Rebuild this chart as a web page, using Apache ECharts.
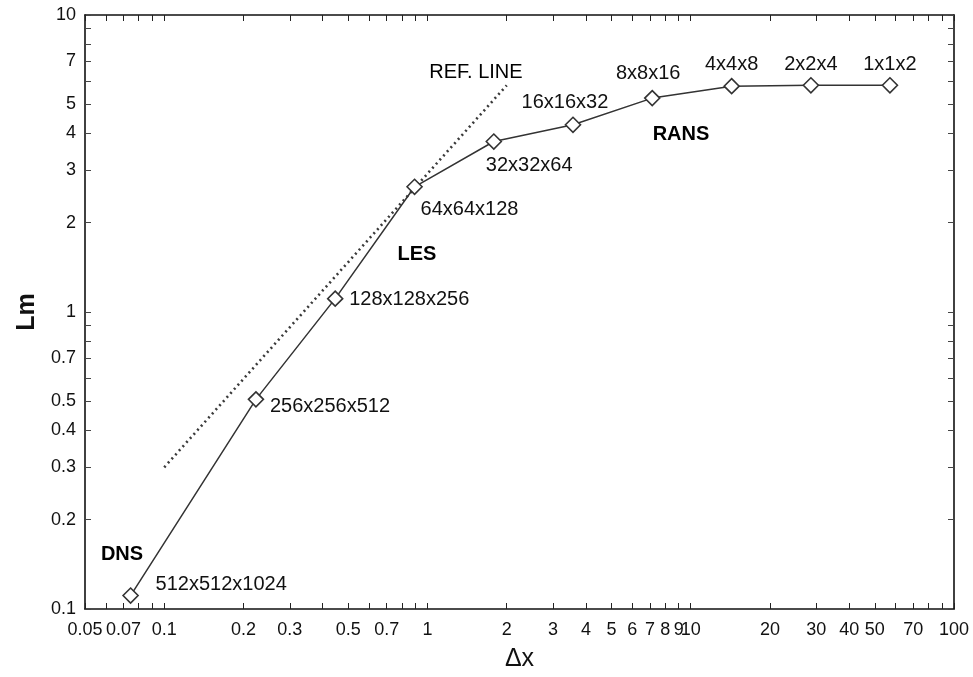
<!DOCTYPE html>
<html><head><meta charset="utf-8">
<script src="https://cdn.jsdelivr.net/npm/echarts@6/dist/echarts.min.js"></script>
<style>html,body{margin:0;padding:0;background:#fff}#c{width:973px;height:677px}</style>
</head><body><div id="c"></div>
<script>
// ---- data ----
const gridNames = ['512x512x1024','256x256x512','128x128x256','64x64x128','32x32x64','16x16x32','8x8x16','4x4x8','2x2x4','1x1x2'];
const deltaX = [0.0745, 0.223, 0.446, 0.893, 1.786, 3.57, 7.14, 14.3, 28.6, 57.1];
const lmValues = [0.111, 0.508, 1.109, 2.64, 3.75, 4.27, 5.25, 5.76, 5.80, 5.80];
const refLineX = [0.1, 2.0];
const refLineY = [0.3, 5.8];
const xTickLabels = [0.05,0.07,0.1,0.2,0.3,0.5,0.7,1,2,3,4,5,6,7,8,9,10,20,30,40,50,70,100];
const xTickMarks = [0.05,0.06,0.07,0.08,0.09,0.1,0.2,0.3,0.4,0.5,0.6,0.7,0.8,0.9,1,2,3,4,5,6,7,8,9,10,20,30,40,50,60,70,80,90,100];
const yTickLabels = [0.1,0.2,0.3,0.4,0.5,0.7,1,2,3,4,5,7,10];
const yTickMarks = [0.1,0.2,0.3,0.4,0.5,0.6,0.7,0.8,0.9,1,2,3,4,5,6,7,8,9,10];
const regionNames = ['DNS','LES','RANS','REF. LINE'];
const regionX = [0.0691, 0.912, 9.18, 1.528];
const regionY = [0.1524, 1.566, 3.96, 6.41];

// ---- layout / style ----
const FONT = '"Liberation Sans", Arial, Helvetica, sans-serif';
const pointLabelOffsets = [[25,-11],[14,7],[14,1],[6,23],[-8,24],[-8,-22],[-4,-25],[0,-22],[0,-21],[0,-21]];
const pointLabelAlign = ['left','left','left','left','left','center','center','center','center','center'];
const regionBold = [true, true, true, false];

const L = Math.log10;
const X_MIN = L(0.05), X_MAX = L(100), Y_MIN = L(0.1), Y_MAX = L(10);
const fmt = v => String(Number(Math.pow(10, v).toPrecision(3)));

function xAxisCfg(pos, showLabels) {
  return {
    type: 'value', position: pos, min: X_MIN, max: X_MAX,
    name: showLabels ? 'Δx' : '', nameLocation: 'middle', nameGap: 38,
    nameTextStyle: { fontFamily: FONT, fontSize: 25, color: '#111' },
    axisLine: { show: true, onZero: false, lineStyle: { color: '#111', width: 1.6 } },
    axisTick: { show: true, inside: true, length: 6, customValues: xTickMarks.map(L), lineStyle: { color: '#222', width: 1 } },
    axisLabel: { show: showLabels, customValues: xTickLabels.map(L), formatter: fmt, margin: 12,
      fontFamily: FONT, fontSize: 18, color: '#111' },
    splitLine: { show: false }
  };
}
function yAxisCfg(pos, showLabels) {
  return {
    type: 'value', position: pos, min: Y_MIN, max: Y_MAX,
    name: showLabels ? 'Lm' : '', nameLocation: 'middle', nameGap: 40, nameRotate: 90,
    nameTextStyle: { fontFamily: FONT, fontSize: 25, fontWeight: 'bold', color: '#111' },
    axisLine: { show: true, onZero: false, lineStyle: { color: '#111', width: 1.6 } },
    axisTick: { show: true, inside: true, length: 6, customValues: yTickMarks.map(L), lineStyle: { color: '#444', width: 1 } },
    axisLabel: { show: showLabels, customValues: yTickLabels.map(L), formatter: fmt, margin: 9,
      fontFamily: FONT, fontSize: 18, color: '#111' },
    splitLine: { show: false }
  };
}

const mainData = deltaX.map((x, i) => ({
  value: [L(x), L(lmValues[i])],
  label: { offset: pointLabelOffsets[i], align: pointLabelAlign[i] }
}));
const refData = refLineX.map((x, i) => [L(x), L(refLineY[i])]);
const regionData = regionNames.map((n, i) => ({
  value: [L(regionX[i]), L(regionY[i])],
  name: n,
  label: { fontWeight: regionBold[i] ? 'bold' : 'normal' }
}));

const chart = echarts.init(document.getElementById('c'), null, { renderer: 'canvas' });
chart.setOption({
  backgroundColor: '#fff',
  animation: false,
  grid: { left: 85, right: 19, top: 15, bottom: 61, containLabel: false },
  xAxis: [xAxisCfg('bottom', true), xAxisCfg('top', false)],
  yAxis: [yAxisCfg('left', true), yAxisCfg('right', false)],
  series: [
    {
      type: 'line', data: refData, showSymbol: false, symbol: 'none', silent: true,
      lineStyle: { color: '#3a3a3a', width: 2.6, type: [2, 3.5] }, z: 1
    },
    {
      type: 'line', data: mainData, symbol: 'diamond', symbolSize: 15, showAllSymbol: true,
      lineStyle: { color: '#333', width: 1.5 },
      itemStyle: { color: '#fff', borderColor: '#333', borderWidth: 1.6 },
      label: {
        show: true, position: 'inside', verticalAlign: 'middle',
        formatter: p => gridNames[p.dataIndex],
        fontFamily: FONT, fontSize: 20, color: '#111', textBorderWidth: 0
      }, z: 3
    },
    {
      type: 'scatter', data: regionData, symbol: 'circle', symbolSize: 0.1,
      itemStyle: { color: '#000', opacity: 1 }, silent: true,
      label: {
        show: true, position: 'inside', align: 'center', verticalAlign: 'middle',
        formatter: p => p.name, fontFamily: FONT, fontSize: 20, color: '#000', textBorderWidth: 0
      }, z: 4
    }
  ]
});
</script>
</body></html>
